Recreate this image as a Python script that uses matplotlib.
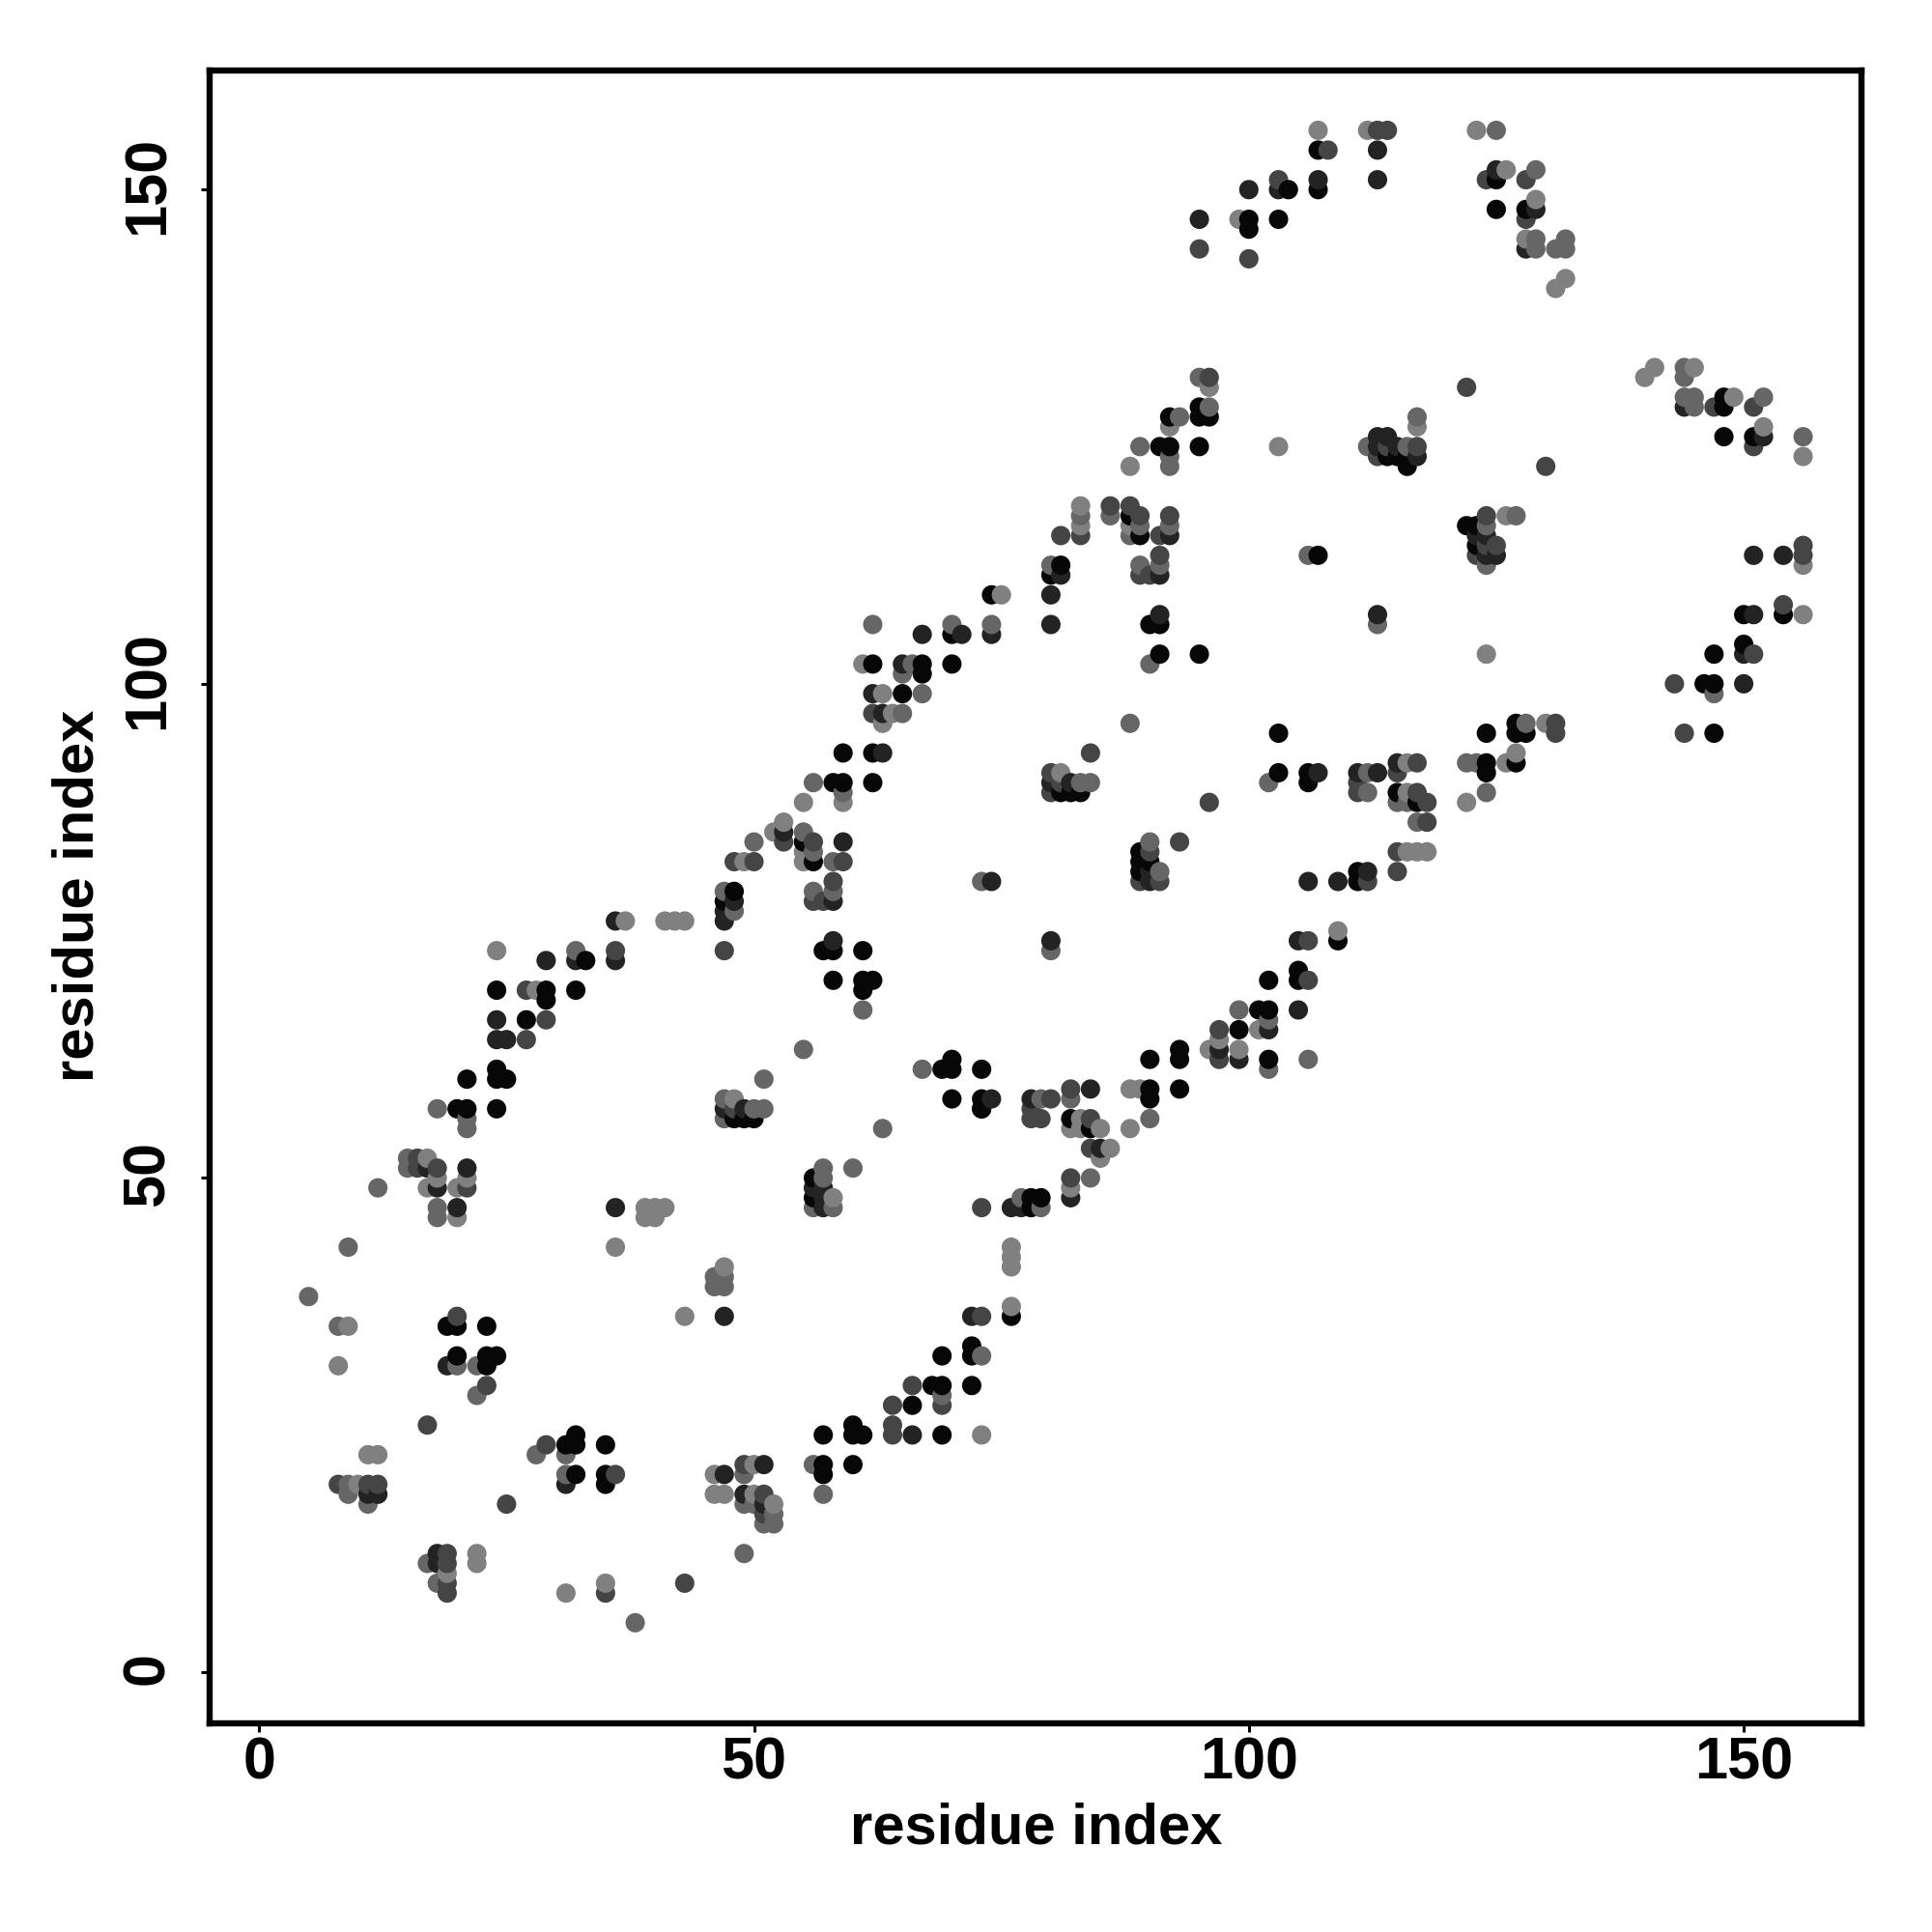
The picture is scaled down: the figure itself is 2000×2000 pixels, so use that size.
import numpy as np
import matplotlib
matplotlib.use('Agg')
import matplotlib.pyplot as plt
from matplotlib.transforms import ScaledTranslation

plt.rcParams['font.family'] = ['Liberation Sans', 'DejaVu Sans']

# contacts (i, j), one list per gray level
contacts_black = [
    (20,57),(21,57),(24,57),(19,35),(20,35),(23,35),(20,32),(23,32),(23,31),(24,32),(31,23),(32,23),(32,24),(35,23),
    (32,20),(35,20),(35,19),(73,57),(82,56),(84,55),(78,48),(78,47),(79,48),(76,36),(72,33),(72,32),(69,32),(68,29),
    (69,29),(72,29),(66,27),(57,24),(60,25),(60,24),(61,24),(69,24),(57,21),(57,20),(60,21),(56,50),(56,48),(21,60),
    (24,61),(24,60),(25,60),(27,66),(24,69),(29,69),(29,68),(32,69),(33,72),(47,78),(48,79),(55,84),(56,82),(58,90),
    (59,90),(62,90),(59,93),(62,93),(57,73),(58,73),(61,73),(58,70),(61,70),(62,70),(61,69),(48,56),(49,56),(50,56),
    (74,109),(70,105),(62,102),(67,102),(67,101),(70,102),(65,99),(90,106),(91,106),(91,103),(95,103),(103,95),(103,91),
    (106,91),(106,90),(81,89),(82,89),(83,89),(115,89),(117,88),(111,80),(111,81),(89,83),(89,82),(90,82),(89,81),
    (109,74),(105,71),(105,70),(102,70),(101,67),(102,67),(99,65),(102,62),(93,63),(93,62),(90,62),(70,62),(69,61),
    (70,61),(73,61),(90,59),(90,58),(93,59),(70,58),(73,58),(73,57),(95,128),(95,127),(96,127),(92,127),(91,124),
    (92,124),(95,124),(88,117),(89,115),(81,112),(80,111),(107,113),(114,123),(115,123),(116,123),(116,122),(122,116),
    (123,116),(123,114),(148,129),(148,128),(148,125),(151,125),(150,107),(154,107),(147,103),(150,104),(146,100),
    (147,100),(147,95),(124,95),(127,96),(127,95),(128,95),(124,92),(124,91),(127,92),(100,147),(100,146),(103,147),
    (104,150),(107,154),(107,150),(125,151),(125,148),(128,148),
]
contacts_dark = [
    (17,51),(18,49),(21,51),(20,47),(36,47),(47,36),(19,31),(31,19),(49,18),(47,20),(51,21),(51,17),(18,12),(18,11),
    (11,18),(12,18),(85,53),(76,47),(77,47),(72,36),(66,24),(82,48),(56,49),(57,49),(57,48),(57,47),(24,64),(25,64),
    (24,66),(29,72),(32,72),(36,72),(36,76),(47,77),(47,76),(48,78),(53,85),(59,84),(63,93),(58,78),(58,74),(47,57),
    (49,57),(80,109),(80,106),(67,105),(71,105),(74,105),(65,102),(62,99),(63,97),(91,107),(107,91),(80,90),(82,90),
    (111,91),(113,91),(115,92),(106,80),(109,80),(112,81),(74,80),(90,81),(90,80),(80,74),(105,74),(105,67),(102,65),
    (97,63),(99,62),(74,58),(78,58),(84,59),(92,115),(81,111),(91,111),(113,125),(113,124),(114,125),(115,124),(117,123),
    (123,115),(124,115),(124,113),(125,113),(113,107),(144,128),(152,125),(151,113),(154,113),(151,107),(150,103),
    (150,100),(95,147),(100,150),(103,150),(107,151),(113,154),(113,151),(125,152),(129,148),(128,144),
]
contacts_mid = [
    (16,52),(16,51),(18,51),(21,49),(8,19),(11,19),(12,19),(20,36),(23,29),(29,23),(36,20),(17,25),(25,17),(51,18),
    (51,16),(19,12),(19,11),(19,9),(19,8),(35,8),(43,9),(49,21),(84,53),(73,47),(64,24),(64,25),(69,27),(82,50),(84,56),
    (73,36),(66,29),(64,27),(27,64),(29,66),(27,69),(36,73),(47,73),(48,82),(50,82),(53,84),(56,84),(59,82),(56,78),
    (57,78),(58,80),(48,57),(62,97),(84,93),(80,91),(81,90),(80,89),(96,88),(111,90),(111,89),(117,92),(115,91),(117,89),
    (118,88),(118,86),(115,83),(115,81),(112,80),(90,83),(89,80),(91,80),(93,84),(106,74),(106,70),(97,65),(97,62),
    (80,58),(78,57),(78,56),(79,56),(82,59),(96,131),(83,115),(81,115),(86,118),(88,118),(89,117),(91,115),(92,117),
    (89,111),(90,111),(91,113),(122,130),(113,123),(114,124),(117,124),(130,122),(124,117),(124,114),(125,114),(123,113),
    (147,128),(151,128),(151,124),(156,114),(156,113),(154,108),(151,103),(143,100),(144,95),(131,96),(131,95),(95,144),
    (100,143),(103,151),(108,154),(113,156),(114,156),(124,151),(128,151),(128,147),
]
contacts_gray = [
    (15,52),(15,51),(18,47),(18,46),(12,49),(9,43),(5,38),(8,35),(20,31),(22,31),(22,28),(28,22),(31,22),(31,20),(9,19),
    (9,18),(11,17),(49,20),(49,17),(49,12),(50,17),(52,16),(51,15),(52,15),(17,11),(18,9),(21,56),(21,55),(18,57),(38,5),
    (46,39),(47,39),(46,40),(47,40),(63,55),(79,47),(56,21),(90,56),(84,50),(77,48),(73,32),(69,28),(57,18),(60,51),(57,51),
    (57,50),(58,47),(56,47),(32,73),(47,79),(48,77),(50,84),(55,85),(56,83),(58,82),(59,89),(56,90),(56,79),(58,79),(61,67),
    (55,63),(51,60),(67,61),(47,58),(50,57),(51,57),(47,56),(62,106),(70,106),(74,106),(66,102),(65,101),(67,99),(65,97),
    (90,102),(88,96),(102,90),(83,90),(84,90),(112,91),(112,89),(115,88),(116,88),(117,86),(73,80),(90,84),(91,81),(80,73),
    (99,67),(102,66),(102,61),(106,62),(79,58),(82,58),(95,131),(96,128),(93,127),(89,124),(92,123),(92,122),(83,117),
    (86,117),(88,115),(89,116),(92,116),(80,112),(89,112),(91,112),(106,113),(117,127),(112,124),(116,124),(127,117),
    (124,116),(124,112),(113,106),(144,132),(144,131),(144,129),(145,129),(145,128),(152,129),(156,125),(147,99),(128,96),
    (122,92),(123,92),(124,89),(125,156),(129,152),(129,145),(129,144),(131,144),(132,145),(132,144),
]
contacts_light = [
    (17,52),(17,49),(18,50),(20,49),(21,50),(20,46),(39,47),(39,46),(40,47),(40,46),(41,47),(36,43),(9,35),(8,31),(47,41),
    (43,36),(11,22),(12,22),(10,19),(46,20),(46,18),(47,18),(50,21),(50,18),(52,17),(22,12),(22,11),(19,10),(31,8),(35,9),
    (83,56),(83,55),(82,55),(85,55),(88,55),(86,53),(85,52),(82,49),(76,43),(76,42),(76,41),(76,37),(73,24),(58,48),(24,73),
    (28,69),(37,76),(41,76),(42,76),(43,76),(49,82),(52,85),(53,86),(55,83),(55,82),(55,88),(59,88),(48,58),(75,109),(61,102),
    (63,99),(64,97),(63,96),(81,91),(116,92),(116,89),(116,83),(117,83),(118,83),(109,75),(101,65),(97,64),(96,63),(99,63),
    (88,59),(89,59),(96,130),(92,126),(103,124),(88,122),(83,118),(83,116),(88,116),(117,126),(126,117),(124,103),(140,131),
    (141,132),(145,132),(149,129),(152,126),(156,123),(156,112),(156,107),(130,96),(126,92),(127,93),(122,88),(99,147),
    (107,156),(112,156),(123,156),(126,152),(129,149),(128,145),(131,140),(132,141),
]

gray_levels = [0.03, 0.14, 0.27, 0.40, 0.50]
x_ticks = [0, 50, 100, 150]
y_ticks = [0, 50, 100, 150]

groups = [contacts_black, contacts_dark, contacts_mid, contacts_gray, contacts_light]
pts = np.array([p for g in groups for p in g])
shade = np.concatenate([np.full(len(g), lev) for g, lev in zip(groups, gray_levels)])
# drawn column by column, upper point on top, the way the overlaps look
order = np.lexsort((pts[:, 1], pts[:, 0]))

fig = plt.figure(figsize=(10, 10), dpi=200)
ax = fig.add_axes([217/2000, (2000-1784)/2000, 1710/2000, (1784-72.5)/2000])
ax.scatter(pts[order, 0], pts[order, 1], s=52, c=shade[order], cmap='gray', vmin=0, vmax=1, linewidths=0, zorder=2)

ax.set_xlim(-5.0, 161.9)
ax.set_ylim(-5.18, 162.1)
ax.set_xticks(x_ticks)
ax.set_yticks(y_ticks)
for s in ax.spines.values():
    s.set_linewidth(2.3)
ax.tick_params(length=3.4, width=1.1, labelsize=22, pad=1.5)
ax.tick_params(axis='y', pad=9)
for lab in ax.get_xticklabels() + ax.get_yticklabels():
    lab.set_fontweight('bold')
# y labels sat a little low when centred, nudge them up onto the ticks
nudge = ScaledTranslation(0, 4/200, fig.dpi_scale_trans)
for lab in ax.get_yticklabels():
    lab.set_rotation(90)
    lab.set_va('center')
    lab.set_transform(lab.get_transform() + nudge)

fig.text(1073/2000, 1 - 1893/2000, 'residue index', fontsize=21.5, fontweight='bold', ha='center', va='center')
fig.text(81/2000, 1 - 927/2000, 'residue index', fontsize=21.5, fontweight='bold', ha='center', va='center', rotation=90)

fig.savefig('out.png', dpi=200)
